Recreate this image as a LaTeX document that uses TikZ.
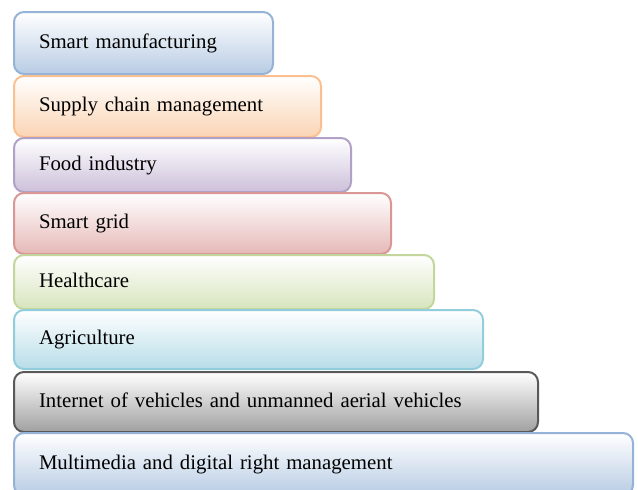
\documentclass[tikz,border=0pt]{standalone}
\usepackage{fontspec}
\setmainfont{Liberation Serif}
\usetikzlibrary{positioning}

\definecolor{manufLine}{HTML}{95B3D7}
\definecolor{manufFill}{HTML}{B8CCE4}
\definecolor{supplyLine}{HTML}{FAC08F}
\definecolor{supplyFill}{HTML}{FBD4B4}
\definecolor{foodLine}{HTML}{B2A1C7}
\definecolor{foodFill}{HTML}{CCC0DA}
\definecolor{gridLine}{HTML}{D99694}
\definecolor{gridFill}{HTML}{E5B9B7}
\definecolor{healthLine}{HTML}{C3D69B}
\definecolor{healthFill}{HTML}{D7E4BD}
\definecolor{agriLine}{HTML}{92CDDC}
\definecolor{agriFill}{HTML}{B7DDE8}
\definecolor{vehicLine}{HTML}{595959}
\definecolor{vehicFill}{HTML}{A0A0A0}

\begin{document}
\begin{tikzpicture}
                [x=1pt,y=-1pt,
                 stage/.style={rectangle,rounded corners=10pt,line width=2pt,anchor=north west,
                    inner xsep=25pt,inner ysep=0pt,align=left,text height=14pt,text depth=4pt,
                    font=\fontsize{20.8}{25}\selectfont},
                 tint/.style 2 args={draw=#1,top color=white,middle color=#2!35,bottom color=#2}]

                \useasboundingbox (0,0) rectangle (638,490);

                % one box per application field, widest at the bottom
                \node[stage,tint={manufLine}{manufFill},text width=209pt,minimum height=62pt] (manuf) at (13,11) {Smart manufacturing};
                \node[stage,tint={supplyLine}{supplyFill},text width=257pt,minimum height=61pt] (supply) at (13,75) {Supply chain management};
                \node[stage,tint={foodLine}{foodFill},text width=287pt,minimum height=54pt] (food) at (13,137) {Food industry};
                \node[stage,tint={gridLine}{gridFill},text width=327pt,minimum height=61pt] (grid) at (13,192) {Smart grid};
                \node[stage,tint={healthLine}{healthFill},text width=370pt,minimum height=54pt] (health) at (13,254) {Healthcare};
                \node[stage,tint={agriLine}{agriFill},text width=419pt,minimum height=59pt] (agri) at (13,309) {Agriculture};
                \node[stage,tint={vehicLine}{vehicFill},text width=474pt,minimum height=60pt] (vehic) at (13,371) {Internet of vehicles and unmanned aerial vehicles};
                \node[stage,tint={manufLine}{manufFill},text width=569pt,minimum height=62pt] (media) at (13,432) {Multimedia and digital right management};

            \end{tikzpicture}
\end{document}
